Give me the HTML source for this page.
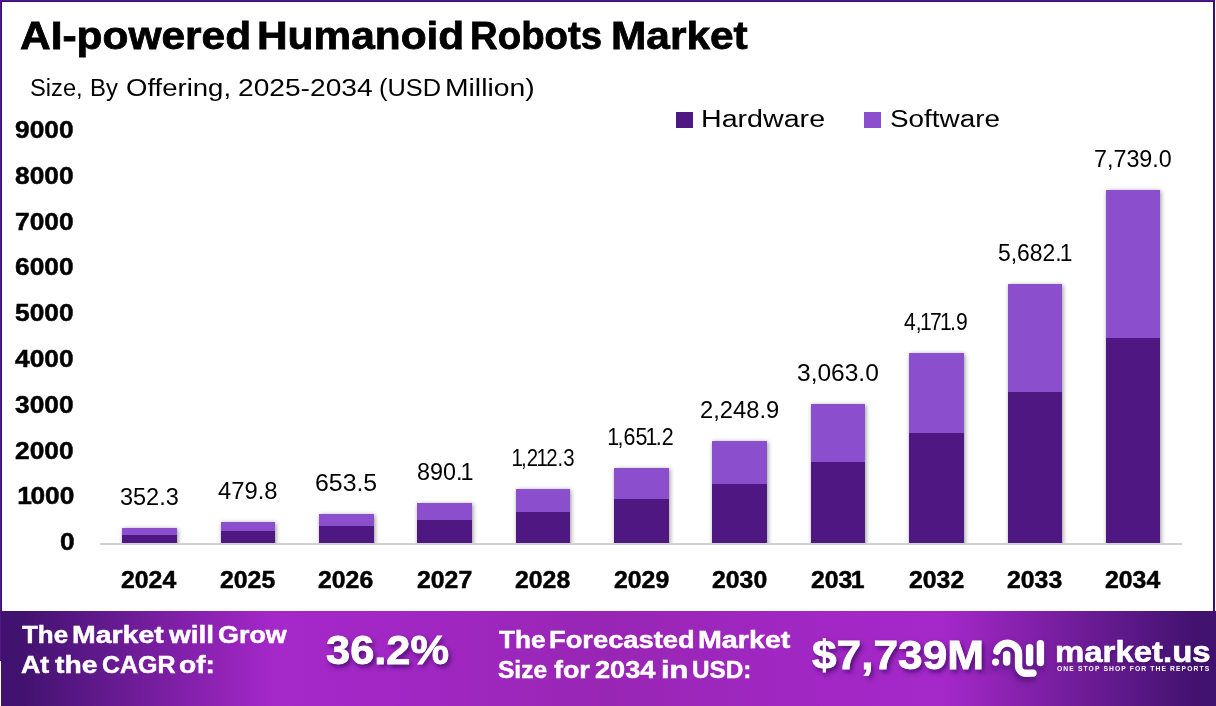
<!DOCTYPE html>
<html lang="en"><head><meta charset="utf-8"><title>AI-powered Humanoid Robots Market</title>
<style>
html,body{margin:0;padding:0;background:#fff;}
body{width:1216px;height:706px;position:relative;overflow:hidden;font-family:"Liberation Sans", sans-serif;}
.t{position:absolute;white-space:nowrap;transform-origin:0 0;display:block;margin:0;padding:0;}
.b{position:absolute;}
.one{margin:0 -0.08em 0 -0.08em;}
.oneb{margin:0 -0.055em 0 -0.07em;}
</style></head><body>
<div class="b" style="left:0;top:0;width:1215px;height:2px;background:linear-gradient(#4e1a86 50%,#3f0a78 50%)"></div>
<div class="b" style="left:0;top:0;width:2px;height:661px;background:linear-gradient(90deg,#4e1a86 50%,#3f0a78 50%)"></div>
<div class="b" style="left:1213px;top:1px;width:2px;height:611px;background:#3f0a78"></div>
<div class="b" style="left:1px;top:611px;width:1215px;height:95px;background:linear-gradient(90deg,#41126f 0%,#41126f 1.5%,#a528c9 22.5%,#a127c3 34%,#9826b4 50%,#a127c3 66%,#a528c9 77.5%,#41126f 98.5%,#41126f 100%)"></div>
<div class="b" style="left:676.4px;top:112.2px;width:16.4px;height:16.3px;background:#4e1782"></div>
<div class="b" style="left:864.4px;top:112.2px;width:16.4px;height:16.3px;background:#8b4fce"></div>
<div class="b" style="left:90px;top:100px;width:1110px;height:444.4px;overflow:hidden">
<div class="b" style="left:32.0px;top:427.9px;width:55.0px;height:24.1px;background:linear-gradient(#8b4fce 0,#8b4fce 6.7px,#4e1782 6.7px);box-shadow:0.5px 1px 4.5px rgba(0,0,0,.42)"></div>
<div class="b" style="left:131.0px;top:422.0px;width:54.0px;height:30.0px;background:linear-gradient(#8b4fce 0,#8b4fce 9.2px,#4e1782 9.2px);box-shadow:0.5px 1px 4.5px rgba(0,0,0,.42)"></div>
<div class="b" style="left:229.0px;top:414.1px;width:55.0px;height:37.9px;background:linear-gradient(#8b4fce 0,#8b4fce 12.5px,#4e1782 12.5px);box-shadow:0.5px 1px 4.5px rgba(0,0,0,.42)"></div>
<div class="b" style="left:327.0px;top:403.3px;width:55.0px;height:48.7px;background:linear-gradient(#8b4fce 0,#8b4fce 17.0px,#4e1782 17.0px);box-shadow:0.5px 1px 4.5px rgba(0,0,0,.42)"></div>
<div class="b" style="left:426.0px;top:388.5px;width:54.0px;height:63.5px;background:linear-gradient(#8b4fce 0,#8b4fce 23.1px,#4e1782 23.1px);box-shadow:0.5px 1px 4.5px rgba(0,0,0,.42)"></div>
<div class="b" style="left:524.0px;top:368.4px;width:55.0px;height:83.6px;background:linear-gradient(#8b4fce 0,#8b4fce 31.5px,#4e1782 31.5px);box-shadow:0.5px 1px 4.5px rgba(0,0,0,.42)"></div>
<div class="b" style="left:622.0px;top:341.0px;width:55.0px;height:111.0px;background:linear-gradient(#8b4fce 0,#8b4fce 42.9px,#4e1782 42.9px);box-shadow:0.5px 1px 4.5px rgba(0,0,0,.42)"></div>
<div class="b" style="left:721.0px;top:303.8px;width:54.2px;height:148.2px;background:linear-gradient(#8b4fce 0,#8b4fce 58.5px,#4e1782 58.5px);box-shadow:0.5px 1px 4.5px rgba(0,0,0,.42)"></div>
<div class="b" style="left:819.4px;top:253.0px;width:54.8px;height:199.0px;background:linear-gradient(#8b4fce 0,#8b4fce 79.6px,#4e1782 79.6px);box-shadow:0.5px 1px 4.5px rgba(0,0,0,.42)"></div>
<div class="b" style="left:917.5px;top:183.9px;width:54.3px;height:268.1px;background:linear-gradient(#8b4fce 0,#8b4fce 108.5px,#4e1782 108.5px);box-shadow:0.5px 1px 4.5px rgba(0,0,0,.42)"></div>
<div class="b" style="left:1015.7px;top:89.7px;width:54.3px;height:362.3px;background:linear-gradient(#8b4fce 0,#8b4fce 147.7px,#4e1782 147.7px);box-shadow:0.5px 1px 4.5px rgba(0,0,0,.42)"></div>
</div>
<div class="b" style="left:100px;top:543px;width:1081.5px;height:1.5px;background:#d0d0d0"></div>
<svg class="b" style="left:985px;top:630px;overflow:visible;filter:drop-shadow(-1px 4px 3px rgba(50,10,90,.6))" width="70" height="60" viewBox="0 0 70 60" fill="none" stroke="#fff" stroke-width="7.4" stroke-linecap="round" stroke-linejoin="round">
<circle cx="10.6" cy="32.1" r="3.6" fill="#fff" stroke="none"/>
<path d="M11.9 21.2 A11.04 11.04 0 0 1 33.56 24.64 L33.56 35.68 A7.65 7.65 0 0 0 41.2 43.3 L48 43.1"/>
<path d="M21.66 24.4 L21.66 32.1"/>
<path d="M44.6 17.6 L44.6 32.5"/>
<path d="M55.4 13.6 L55.4 32.5"/>
</svg>
<div class="t" id="t0" style="left:20.15px;top:18px;font-size:37.97px;line-height:37.97px;font-weight:bold;color:#000;transform:scaleX(1.1181);-webkit-text-stroke:0.76px #000;">AI-powered</div>
<div class="t" id="t1" style="left:256.92px;top:18px;font-size:37.97px;line-height:37.97px;font-weight:bold;color:#000;transform:scaleX(1.1166);-webkit-text-stroke:0.76px #000;">Humanoid</div>
<div class="t" id="t2" style="left:469.77px;top:18px;font-size:37.97px;line-height:37.97px;font-weight:bold;color:#000;transform:scaleX(1.0102);-webkit-text-stroke:0.76px #000;">Robots</div>
<div class="t" id="t3" style="left:610.50px;top:18px;font-size:37.97px;line-height:37.97px;font-weight:bold;color:#000;transform:scaleX(1.1167);-webkit-text-stroke:0.76px #000;">Market</div>
<div class="t" id="sub_0" style="left:30.23px;top:76px;font-size:24.64px;line-height:24.64px;font-weight:normal;color:#000;transform:scaleX(0.9615);">Size, </div>
<div class="t" id="sub_1" style="left:90.04px;top:76px;font-size:24.64px;line-height:24.64px;font-weight:normal;color:#000;transform:scaleX(0.9704);">By </div>
<div class="t" id="sub_2" style="left:125.88px;top:76px;font-size:24.64px;line-height:24.64px;font-weight:normal;color:#000;transform:scaleX(1.1176);">Offering, </div>
<div class="t" id="sub_3" style="left:237.64px;top:76px;font-size:24.64px;line-height:24.64px;font-weight:normal;color:#000;transform:scaleX(1.1431);">2025-2034 </div>
<div class="t" id="sub_4" style="left:378.74px;top:76px;font-size:24.64px;line-height:24.64px;font-weight:normal;color:#000;transform:scaleX(1.0298);">(USD </div>
<div class="t" id="sub_5" style="left:445.13px;top:76px;font-size:24.64px;line-height:24.64px;font-weight:normal;color:#000;transform:scaleX(1.1493);">Million) </div>
<div class="t" id="lg1" style="left:700.62px;top:107px;font-size:24.06px;line-height:24.06px;font-weight:normal;color:#000;transform:scaleX(1.1901);">Hardware</div>
<div class="t" id="lg2" style="left:889.84px;top:107px;font-size:24.06px;line-height:24.06px;font-weight:normal;color:#000;transform:scaleX(1.1591);">Software</div>
<div class="t" id="y0" style="left:15.32px;top:119px;font-size:23.19px;line-height:23.19px;font-weight:bold;color:#000;transform:scaleX(1.1350);-webkit-text-stroke:0.46px #000;">9000</div>
<div class="t" id="y1" style="left:15.32px;top:165px;font-size:23.19px;line-height:23.19px;font-weight:bold;color:#000;transform:scaleX(1.1350);-webkit-text-stroke:0.46px #000;">8000</div>
<div class="t" id="y2" style="left:15.32px;top:211px;font-size:23.19px;line-height:23.19px;font-weight:bold;color:#000;transform:scaleX(1.1350);-webkit-text-stroke:0.46px #000;">7000</div>
<div class="t" id="y3" style="left:15.32px;top:256px;font-size:23.19px;line-height:23.19px;font-weight:bold;color:#000;transform:scaleX(1.1350);-webkit-text-stroke:0.46px #000;">6000</div>
<div class="t" id="y4" style="left:15.32px;top:302px;font-size:23.19px;line-height:23.19px;font-weight:bold;color:#000;transform:scaleX(1.1350);-webkit-text-stroke:0.46px #000;">5000</div>
<div class="t" id="y5" style="left:15.32px;top:348px;font-size:23.19px;line-height:23.19px;font-weight:bold;color:#000;transform:scaleX(1.1350);-webkit-text-stroke:0.46px #000;">4000</div>
<div class="t" id="y6" style="left:15.32px;top:394px;font-size:23.19px;line-height:23.19px;font-weight:bold;color:#000;transform:scaleX(1.1350);-webkit-text-stroke:0.46px #000;">3000</div>
<div class="t" id="y7" style="left:15.32px;top:440px;font-size:23.19px;line-height:23.19px;font-weight:bold;color:#000;transform:scaleX(1.1350);-webkit-text-stroke:0.46px #000;">2000</div>
<div class="t" id="y8" style="left:18.73px;top:485px;font-size:23.19px;line-height:23.19px;font-weight:bold;color:#000;transform:scaleX(1.1350);-webkit-text-stroke:0.46px #000;"><span class="oneb">1</span>000</div>
<div class="t" id="y9" style="left:59.58px;top:531px;font-size:23.19px;line-height:23.19px;font-weight:bold;color:#000;transform:scaleX(1.1350);-webkit-text-stroke:0.46px #000;">0</div>
<div class="t" id="x0" style="left:121.39px;top:569px;font-size:23.19px;line-height:23.19px;font-weight:bold;color:#000;transform:scaleX(1.0700);-webkit-text-stroke:0.46px #000;">2024</div>
<div class="t" id="d0" style="left:119.78px;top:486px;font-size:23.04px;line-height:23.04px;font-weight:normal;color:#000;transform:scaleX(1.0196);">352.3</div>
<div class="t" id="x1" style="left:219.62px;top:569px;font-size:23.19px;line-height:23.19px;font-weight:bold;color:#000;transform:scaleX(1.0700);-webkit-text-stroke:0.46px #000;">2025</div>
<div class="t" id="d1" style="left:217.80px;top:480px;font-size:23.04px;line-height:23.04px;font-weight:normal;color:#000;transform:scaleX(1.0316);">479.8</div>
<div class="t" id="x2" style="left:318.38px;top:569px;font-size:23.19px;line-height:23.19px;font-weight:bold;color:#000;transform:scaleX(1.0700);-webkit-text-stroke:0.46px #000;">2026</div>
<div class="t" id="d2" style="left:314.71px;top:472px;font-size:23.04px;line-height:23.04px;font-weight:normal;color:#000;transform:scaleX(1.0786);">653.5</div>
<div class="t" id="x3" style="left:416.61px;top:569px;font-size:23.19px;line-height:23.19px;font-weight:bold;color:#000;transform:scaleX(1.0700);-webkit-text-stroke:0.46px #000;">2027</div>
<div class="t" id="d3" style="left:416.58px;top:461px;font-size:23.04px;line-height:23.04px;font-weight:normal;color:#000;transform:scaleX(1.0132);">890.<span class="one">1</span></div>
<div class="t" id="x4" style="left:514.85px;top:569px;font-size:23.19px;line-height:23.19px;font-weight:bold;color:#000;transform:scaleX(1.0700);-webkit-text-stroke:0.46px #000;">2028</div>
<div class="t" id="d4" style="left:512.57px;top:447px;font-size:23.04px;line-height:23.04px;font-weight:normal;color:#000;transform:scaleX(0.8855);"><span class="one">1</span>,2<span class="one">1</span>2.3</div>
<div class="t" id="x5" style="left:613.61px;top:569px;font-size:23.19px;line-height:23.19px;font-weight:bold;color:#000;transform:scaleX(1.0700);-webkit-text-stroke:0.46px #000;">2029</div>
<div class="t" id="d5" style="left:609.39px;top:426px;font-size:23.04px;line-height:23.04px;font-weight:normal;color:#000;transform:scaleX(0.9304);"><span class="one">1</span>,65<span class="one">1</span>.2</div>
<div class="t" id="x6" style="left:711.84px;top:569px;font-size:23.19px;line-height:23.19px;font-weight:bold;color:#000;transform:scaleX(1.0700);-webkit-text-stroke:0.46px #000;">2030</div>
<div class="t" id="d6" style="left:699.97px;top:399px;font-size:23.04px;line-height:23.04px;font-weight:normal;color:#000;transform:scaleX(1.0307);">2,248.9</div>
<div class="t" id="x7" style="left:811.14px;top:569px;font-size:23.19px;line-height:23.19px;font-weight:bold;color:#000;transform:scaleX(1.0700);-webkit-text-stroke:0.46px #000;">203<span class="oneb">1</span></div>
<div class="t" id="d7" style="left:796.73px;top:362px;font-size:23.04px;line-height:23.04px;font-weight:normal;color:#000;transform:scaleX(1.0640);">3,063.0</div>
<div class="t" id="x8" style="left:908.84px;top:569px;font-size:23.19px;line-height:23.19px;font-weight:bold;color:#000;transform:scaleX(1.0700);-webkit-text-stroke:0.46px #000;">2032</div>
<div class="t" id="d8" style="left:904.23px;top:311px;font-size:23.04px;line-height:23.04px;font-weight:normal;color:#000;transform:scaleX(0.9147);">4,<span class="one">1</span>7<span class="one">1</span>.9</div>
<div class="t" id="x9" style="left:1007.07px;top:569px;font-size:23.19px;line-height:23.19px;font-weight:bold;color:#000;transform:scaleX(1.0700);-webkit-text-stroke:0.46px #000;">2033</div>
<div class="t" id="d9" style="left:997.81px;top:242px;font-size:23.04px;line-height:23.04px;font-weight:normal;color:#000;transform:scaleX(0.9931);">5,682.<span class="one">1</span></div>
<div class="t" id="x10" style="left:1104.77px;top:569px;font-size:23.19px;line-height:23.19px;font-weight:bold;color:#000;transform:scaleX(1.0700);-webkit-text-stroke:0.46px #000;">2034</div>
<div class="t" id="d10" style="left:1094.19px;top:148px;font-size:23.04px;line-height:23.04px;font-weight:normal;color:#000;transform:scaleX(1.0120);">7,739.0</div>
<div class="t" id="f1_0" style="left:22.16px;top:624px;font-size:23.62px;line-height:23.62px;font-weight:bold;color:#fff;transform:scaleX(1.1000);-webkit-text-stroke:0.47px #fff;">The </div>
<div class="t" id="f1_1" style="left:72.15px;top:624px;font-size:23.62px;line-height:23.62px;font-weight:bold;color:#fff;transform:scaleX(1.2055);-webkit-text-stroke:0.47px #fff;">Market </div>
<div class="t" id="f1_2" style="left:169.25px;top:624px;font-size:23.62px;line-height:23.62px;font-weight:bold;color:#fff;transform:scaleX(1.1857);-webkit-text-stroke:0.47px #fff;">will </div>
<div class="t" id="f1_3" style="left:218.07px;top:624px;font-size:23.62px;line-height:23.62px;font-weight:bold;color:#fff;transform:scaleX(1.1390);-webkit-text-stroke:0.47px #fff;">Grow </div>
<div class="t" id="f2_0" style="left:20.87px;top:654px;font-size:23.62px;line-height:23.62px;font-weight:bold;color:#fff;transform:scaleX(1.1348);-webkit-text-stroke:0.47px #fff;">At </div>
<div class="t" id="f2_1" style="left:54.90px;top:654px;font-size:23.62px;line-height:23.62px;font-weight:bold;color:#fff;transform:scaleX(1.1971);-webkit-text-stroke:0.47px #fff;">the </div>
<div class="t" id="f2_2" style="left:102.15px;top:654px;font-size:23.62px;line-height:23.62px;font-weight:bold;color:#fff;transform:scaleX(1.0567);-webkit-text-stroke:0.47px #fff;">CAGR </div>
<div class="t" id="f2_3" style="left:179.27px;top:654px;font-size:23.62px;line-height:23.62px;font-weight:bold;color:#fff;transform:scaleX(1.1923);-webkit-text-stroke:0.47px #fff;">of: </div>
<div class="t" id="f3" style="left:326.12px;top:630px;font-size:41.16px;line-height:41.16px;font-weight:bold;color:#fff;transform:scaleX(1.0544);-webkit-text-stroke:0.82px #fff;text-shadow:2px 3px 5px rgba(45,8,85,.8);">36.2%</div>
<div class="t" id="f4_0" style="left:498.73px;top:629px;font-size:23.62px;line-height:23.62px;font-weight:bold;color:#fff;transform:scaleX(1.1100);-webkit-text-stroke:0.47px #fff;">The </div>
<div class="t" id="f4_1" style="left:549.12px;top:629px;font-size:23.62px;line-height:23.62px;font-weight:bold;color:#fff;transform:scaleX(1.1566);-webkit-text-stroke:0.47px #fff;">Forecasted </div>
<div class="t" id="f4_2" style="left:698.02px;top:629px;font-size:23.62px;line-height:23.62px;font-weight:bold;color:#fff;transform:scaleX(1.2135);-webkit-text-stroke:0.47px #fff;">Market </div>
<div class="t" id="f5_0" style="left:497.55px;top:659px;font-size:23.62px;line-height:23.62px;font-weight:bold;color:#fff;transform:scaleX(1.0378);-webkit-text-stroke:0.47px #fff;">Size </div>
<div class="t" id="f5_1" style="left:554.15px;top:659px;font-size:23.62px;line-height:23.62px;font-weight:bold;color:#fff;transform:scaleX(1.1367);-webkit-text-stroke:0.47px #fff;">for </div>
<div class="t" id="f5_2" style="left:595.06px;top:659px;font-size:23.62px;line-height:23.62px;font-weight:bold;color:#fff;transform:scaleX(1.1510);-webkit-text-stroke:0.47px #fff;">2034 </div>
<div class="t" id="f5_3" style="left:661.16px;top:659px;font-size:23.62px;line-height:23.62px;font-weight:bold;color:#fff;transform:scaleX(1.3059);-webkit-text-stroke:0.47px #fff;">in </div>
<div class="t" id="f5_4" style="left:692.16px;top:659px;font-size:23.62px;line-height:23.62px;font-weight:bold;color:#fff;transform:scaleX(1.0278);-webkit-text-stroke:0.47px #fff;">USD: </div>
<div class="t" id="f6" style="left:812.48px;top:636px;font-size:40.14px;line-height:40.14px;font-weight:bold;color:#fff;transform:scaleX(1.1020);-webkit-text-stroke:0.80px #fff;text-shadow:2px 3px 5px rgba(45,8,85,.8);">$7,739M</div>
<div class="t" id="f7" style="left:1055.06px;top:637px;font-size:29.40px;line-height:29.40px;font-weight:bold;color:#fff;transform:scaleX(1.1209);-webkit-text-stroke:0.59px #fff;text-shadow:1px 2px 3px rgba(50,10,90,.5);">market.us</div>
<div class="t" id="f8" style="left:1057.00px;top:666px;font-size:6.30px;line-height:6.30px;font-weight:bold;color:#fff;transform:scaleX(1.0662);letter-spacing:1.05px;">ONE STOP SHOP FOR THE REPORTS</div>
</body></html>
